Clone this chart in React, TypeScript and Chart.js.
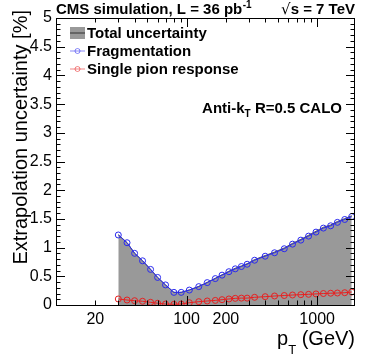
import React, { useEffect, useRef } from "react";
import { Chart, registerables } from "chart.js";
Chart.register(...registerables);

const ptBins = [30, 35, 40, 46, 53, 60, 69, 80, 91, 105, 124, 144, 166, 187, 211, 236, 263, 291, 332, 400, 472, 560, 648, 750, 860, 980, 1117, 1270, 1430, 1627, 1840];
const fragmentation = [1.22, 1.085, 0.9, 0.77, 0.62, 0.48, 0.35, 0.22, 0.22, 0.26, 0.32, 0.39, 0.46, 0.52, 0.58, 0.63, 0.67, 0.71, 0.78, 0.85, 0.91, 0.98, 1.06, 1.13, 1.2, 1.27, 1.34, 1.38, 1.44, 1.49, 1.54];
const singlePion = [0.105, 0.087, 0.075, 0.065, 0.047, 0.03, 0.017, 0.012, 0.017, 0.04, 0.058, 0.07, 0.08, 0.093, 0.105, 0.116, 0.12, 0.12, 0.134, 0.145, 0.157, 0.165, 0.174, 0.18, 0.186, 0.193, 0.2, 0.205, 0.209, 0.214, 0.226];
const totalUncertainty = [1.225, 1.088, 0.903, 0.773, 0.622, 0.481, 0.35, 0.22, 0.221, 0.263, 0.325, 0.396, 0.467, 0.528, 0.589, 0.641, 0.681, 0.72, 0.791, 0.862, 0.923, 0.994, 1.074, 1.144, 1.215, 1.285, 1.355, 1.395, 1.455, 1.505, 1.556];
const xTickLabels = [20, 100, 200, 1000];
const xMin = 10;
const xMax = 1950;
const yMin = 0;
const yMax = 5;
const legendLabels = ["Total uncertainty", "Fragmentation", "Single pion response"];

const FONT = "'Liberation Sans', Arial, Helvetica, sans-serif";
const BLUE = "#2a2af0";
const RED = "#e82020";
const GRAY = "#999999";

export default function App() {
  const ref = useRef<HTMLCanvasElement>(null);
  useEffect(() => {
    const canvas = ref.current!;
    const rootPlugin = {
      id: "rootStyle",
      afterDraw(chart: any) {
        const ctx = chart.ctx as CanvasRenderingContext2D;
        const a = chart.chartArea;
        const xs = chart.scales.x;
        const ys = chart.scales.y;
        ctx.save();
        ctx.strokeStyle = "#000";
        ctx.lineWidth = 1;
        ctx.strokeRect(Math.round(a.left) + 0.5, Math.round(a.top) + 0.5, Math.round(a.right - a.left) - 1, Math.round(a.bottom - a.top));
        ctx.beginPath();
        for (let i = 0; i <= 50; i++) {
          const v = yMin + i * 0.1;
          const py = Math.round(ys.getPixelForValue(v)) + 0.5;
          const len = i % 5 === 0 ? 9 : 4.5;
          ctx.moveTo(a.left, py);
          ctx.lineTo(a.left + len, py);
          ctx.moveTo(a.right, py);
          ctx.lineTo(a.right - len, py);
        }
        for (const d of [10, 100, 1000]) {
          for (let k = 1; k <= 9; k++) {
            const v = d * k;
            if (v < xMin || v > xMax) continue;
            const px = Math.round(xs.getPixelForValue(v)) + 0.5;
            const len = k === 1 ? 9 : 4.5;
            ctx.moveTo(px, a.bottom);
            ctx.lineTo(px, a.bottom - len);
            ctx.moveTo(px, a.top);
            ctx.lineTo(px, a.top + len);
          }
        }
        ctx.stroke();

        ctx.fillStyle = "#000";
        // Header
        ctx.font = `bold 15px ${FONT}`;
        ctx.textBaseline = "alphabetic";
        ctx.textAlign = "left";
        const t1 = "CMS simulation, L = 36 pb";
        ctx.fillText(t1, 56, 14);
        const w1 = ctx.measureText(t1).width;
        ctx.font = `bold 10px ${FONT}`;
        ctx.fillText("-1", 56 + w1 + 0.5, 8);
        ctx.font = `bold 15px ${FONT}`;
        ctx.textAlign = "right";
        ctx.fillText("s = 7 TeV", 355, 14);
        const ws = ctx.measureText("s = 7 TeV").width;
        ctx.font = `15px 'DejaVu Sans', ${FONT}`;
        ctx.fillText("\u221A", 355 - ws, 14);

        // Anti-kT label
        ctx.textAlign = "left";
        ctx.font = `bold 15px ${FONT}`;
        const p1 = "Anti-k";
        const p2 = " R=0.5 CALO";
        ctx.font = `bold 15px ${FONT}`;
        const wp1 = ctx.measureText(p1).width;
        ctx.font = `bold 10px ${FONT}`;
        const wT = ctx.measureText("T").width;
        ctx.font = `bold 15px ${FONT}`;
        const wp2 = ctx.measureText(p2).width;
        const startX = 342 - (wp1 + wT + wp2);
        ctx.fillText(p1, startX, 113);
        ctx.font = `bold 10px ${FONT}`;
        ctx.fillText("T", startX + wp1, 117);
        ctx.font = `bold 15px ${FONT}`;
        ctx.fillText(p2, startX + wp1 + wT, 113);

        // Legend
        const lx = 70;
        const rows = [33, 51, 69];
        ctx.fillStyle = GRAY;
        ctx.fillRect(lx, rows[0] - 6, 15, 12);
        ctx.strokeStyle = "#555";
        ctx.lineWidth = 1.5;
        ctx.beginPath();
        ctx.moveTo(lx, rows[0]);
        ctx.lineTo(lx + 15, rows[0]);
        ctx.stroke();
        const cols = ["rgba(40,40,240,0.55)", "rgba(232,32,32,0.55)"];
        for (let i = 0; i < 2; i++) {
          const yy = rows[i + 1];
          ctx.strokeStyle = cols[i];
          ctx.lineWidth = 1;
          ctx.beginPath();
          ctx.moveTo(lx, yy);
          ctx.lineTo(lx + 15, yy);
          ctx.stroke();
          ctx.beginPath();
          ctx.arc(lx + 7.5, yy, 2.5, 0, Math.PI * 2);
          ctx.stroke();
        }
        ctx.fillStyle = "#000";
        ctx.font = `bold 15px ${FONT}`;
        ctx.textBaseline = "middle";
        legendLabels.forEach((s, i) => ctx.fillText(s, 87, rows[i] + 1));

        // Axis titles
        ctx.textBaseline = "alphabetic";
        ctx.font = `20px ${FONT}`;
        ctx.save();
        ctx.translate(27, 10);
        ctx.rotate(-Math.PI / 2);
        ctx.textAlign = "right";
        ctx.fillText("Extrapolation uncertainty [%]", 0, 0);
        ctx.restore();

        ctx.textAlign = "left";
        const rest = " (GeV)";
        ctx.font = `20px ${FONT}`;
        const wr = ctx.measureText(rest).width;
        const wp = ctx.measureText("p").width;
        ctx.font = `13px ${FONT}`;
        const wt = ctx.measureText("T").width;
        const sx = 355 - wr - wt - wp;
        ctx.font = `20px ${FONT}`;
        ctx.fillText("p", sx, 345);
        ctx.font = `13px ${FONT}`;
        ctx.fillText("T", sx + wp, 354);
        ctx.font = `20px ${FONT}`;
        ctx.fillText(rest, sx + wp + wt, 345);
        ctx.restore();
      },
    };

    const chart = new Chart(canvas, {
      type: "line",
      data: {
        datasets: [
          {
            label: legendLabels[0],
            data: ptBins.map((x, i) => ({ x, y: totalUncertainty[i] })),
            borderColor: "#555555",
            borderWidth: 1,
            backgroundColor: GRAY,
            fill: "origin",
            pointRadius: 0,
            tension: 0,
            order: 3,
          },
          {
            label: legendLabels[2],
            data: ptBins.map((x, i) => ({ x, y: singlePion[i] })),
            borderColor: RED,
            borderWidth: 1,
            pointRadius: 3,
            pointBorderWidth: 1,
            pointBorderColor: RED,
            pointBackgroundColor: "rgba(0,0,0,0)",
            fill: false,
            tension: 0,
            order: 2,
          },
          {
            label: legendLabels[1],
            data: ptBins.map((x, i) => ({ x, y: fragmentation[i] })),
            borderColor: BLUE,
            borderWidth: 1,
            pointRadius: 3,
            pointBorderWidth: 1,
            pointBorderColor: BLUE,
            pointBackgroundColor: "rgba(0,0,0,0)",
            fill: false,
            tension: 0,
            order: 1,
          },
        ],
      },
      options: {
        responsive: false,
        animation: false,
        devicePixelRatio: 1,
        layout: { padding: { left: 0, top: 18, right: 19, bottom: 0 } },
        plugins: { legend: { display: false }, tooltip: { enabled: false } },
        scales: {
          x: {
            type: "logarithmic",
            min: xMin,
            max: xMax,
            afterFit: (s: any) => {
              s.height = 54;
            },
            afterBuildTicks: (s: any) => {
              s.ticks = xTickLabels.map((v) => ({ value: v }));
            },
            ticks: {
              autoSkip: false,
              maxRotation: 0,
              minRotation: 0,
              padding: 5,
              color: "#000",
              font: { family: FONT, size: 16 },
              callback: (v: any) => String(v),
            },
            grid: { display: false, drawTicks: false },
            border: { display: false },
          },
          y: {
            type: "linear",
            min: yMin,
            max: yMax,
            afterFit: (s: any) => {
              s.width = 56;
            },
            ticks: {
              stepSize: 0.5,
              padding: 4,
              color: "#000",
              font: { family: FONT, size: 16 },
              callback: (v: any) => String(v),
            },
            grid: { display: false, drawTicks: false },
            border: { display: false },
          },
        },
      },
      plugins: [rootPlugin],
    });
    return () => chart.destroy();
  }, []);

  return (
    <div style={{ position: "fixed", left: 0, top: 0, width: 374, height: 359, background: "#fff" }}>
      <canvas ref={ref} width={374} height={359} style={{ width: 374, height: 359, display: "block" }} />
    </div>
  );
}
